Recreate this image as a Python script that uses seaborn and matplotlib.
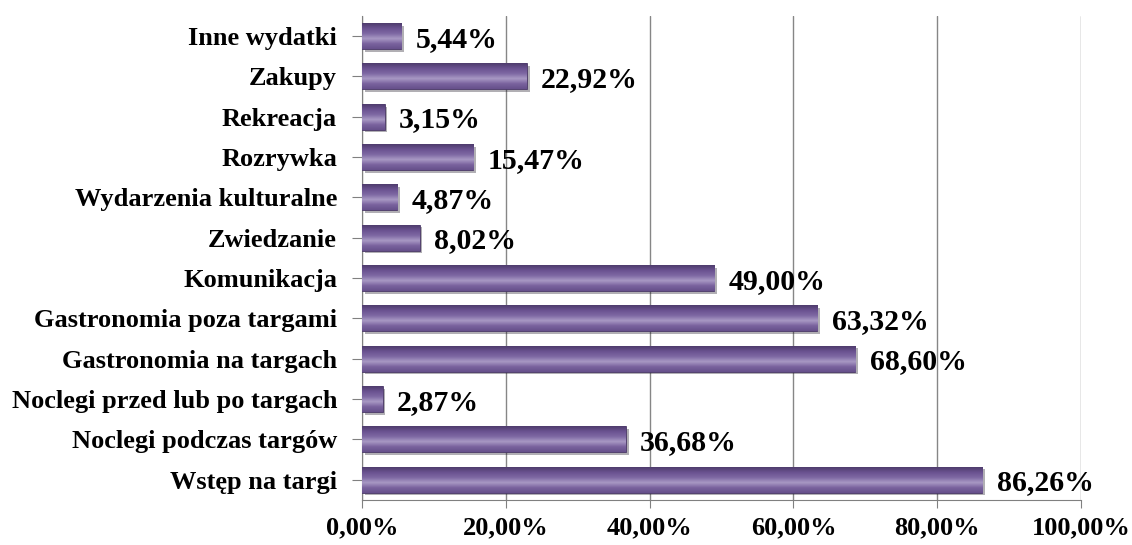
import numpy as np
import pandas as pd
import matplotlib
matplotlib.use('Agg')
import matplotlib.pyplot as plt
import matplotlib.patheffects as pe
from matplotlib.colors import LinearSegmentedColormap
import seaborn as sns

# dane (od góry do dołu)
kategorie = ['Inne wydatki', 'Zakupy', 'Rekreacja', 'Rozrywka',
             'Wydarzenia kulturalne', 'Zwiedzanie', 'Komunikacja',
             'Gastronomia poza targami', 'Gastronomia na targach',
             'Noclegi przed lub po targach', 'Noclegi podczas targów',
             'Wstęp na targi']
wartosci = [5.44, 22.92, 3.15, 15.47, 4.87, 8.02, 49.00, 63.32, 68.60,
            2.87, 36.68, 86.26]
ticki = [0, 20, 40, 60, 80, 100]

df = pd.DataFrame({'kat': kategorie, 'val': wartosci})

sns.set_style('white')
plt.rcParams['font.family'] = ['Liberation Serif', 'DejaVu Serif']
plt.rcParams['font.weight'] = 'bold'
plt.rcParams['text.color'] = 'black'
plt.rcParams['xtick.color'] = 'black'
plt.rcParams['ytick.color'] = 'black'

fig, ax = plt.subplots(figsize=(11.32, 5.45), dpi=100)
fig.subplots_adjust(left=0.3198, right=0.955, top=0.971, bottom=0.083)

sns.barplot(data=df, x='val', y='kat', orient='h', color='#6a5290',
            width=0.64, edgecolor='#4a3868', linewidth=0.6, ax=ax, zorder=3)

# gradient na słupkach
grad_cmap = LinearSegmentedColormap.from_list(
    'g', ['#4f3c6d', '#6a5290', '#7e68a3', '#a898c4', '#7a639e', '#66508b'])
grad = np.linspace(0, 1, 64).reshape(-1, 1)
for p in ax.patches:
    x0, y0 = p.get_x(), p.get_y()
    w, h = p.get_width(), p.get_height()
    im = ax.imshow(grad, extent=[x0, x0 + w, y0 + h, y0], origin='upper',
                   aspect='auto', cmap=grad_cmap, zorder=3.5)
    im.set_clip_path(p)
    p.set_path_effects([pe.SimplePatchShadow(offset=(2, -2), alpha=0.35),
                        pe.Normal()])

for i, v in enumerate(wartosci):
    ax.text(v + 2.0, i + 0.08, f'{v:.2f}%'.replace('.', ','),
            va='center', ha='left', fontsize=21.5, fontweight='bold',
            color='black', zorder=5)

ax.set_xlim(0, 100)
ax.set_ylim(len(kategorie) - 0.5, -0.5)
ax.set_xticks(ticki)
ax.set_xticklabels([f'{t:.2f}%'.replace('.', ',') for t in ticki],
                   fontsize=19, fontweight='bold')
ax.tick_params(axis='y', labelsize=19, length=7, color='#808080',
               labelcolor='black', direction='out', left=True, pad=11)
ax.tick_params(axis='x', length=6, color='#808080', labelcolor='black',
               direction='out', bottom=True, pad=6)
for lab in ax.get_yticklabels():
    lab.set_fontweight('bold')
ax.set_xlabel('')
ax.set_ylabel('')
ax.xaxis.grid(True, color='#868686', linewidth=1.0, zorder=0)
ax.set_axisbelow(True)
for s in ['top', 'right']:
    ax.spines[s].set_visible(False)
ax.spines['left'].set_color('#808080')
ax.spines['bottom'].set_color('#808080')

fig.savefig('out.png', dpi=100)
